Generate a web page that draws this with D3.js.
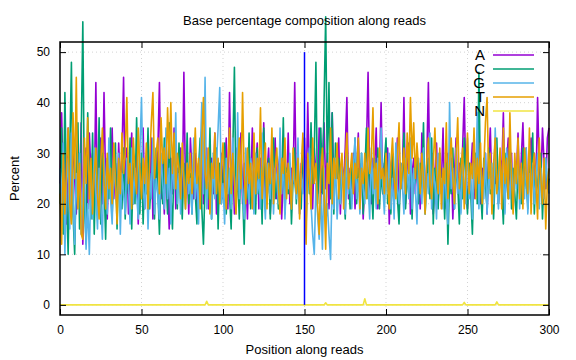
<!DOCTYPE html>
<html><head><meta charset="utf-8">
<script src="https://cdn.jsdelivr.net/npm/d3@7"></script>
<style>body{margin:0;background:#fff}svg{display:block}text{font-family:"Liberation Sans",Arial,sans-serif;}</style>
</head><body><svg id="c" width="576" height="360"></svg>
<script>
const title = "Base percentage composition along reads";
const xLabel = "Position along reads";
const yLabel = "Percent";
const xTicks = [0,50,100,150,200,250,300];
const yTicks = [0,10,20,30,40,50];
const seriesNames = ["A","C","G","T","N"];
const seriesColors = ["#9400d3","#009e73","#56b4e9","#e69f00","#f0e442"];
const positions = d3.range(0, 301);

const valuesA = [24,38,22,30,16,35,28,20,33,25,18,29,22,36,12,27,31,19,34,26,
30,21,44,18,28,33,20,42,24,17,30,26,35,21,28,19,32,24,29,45,
22,31,18,27,34,20,25,30,16,28,23,35,19,29,26,21,33,17,27,24,
30,44,21,28,18,32,25,15,29,22,35,19,27,24,31,20,46,23,29,18,
33,26,21,30,17,28,24,35,20,27,31,19,26,29,22,34,18,28,25,30,
21,27,33,19,42,24,29,18,31,25,22,34,20,28,26,17,30,23,35,21,
27,32,19,29,24,36,20,26,31,18,28,23,33,21,27,30,17,25,29,22,
34,20,27,24,44,22,30,18,28,25,33,21,40,24,29,19,31,26,22,35,
20,28,36,23,30,19,27,38,22,29,25,33,18,28,24,31,41,21,27,23,
30,19,26,34,22,28,17,25,31,46,24,20,29,27,35,19,26,40,22,28,
24,31,16,27,30,21,25,33,19,28,23,41,20,27,32,18,26,29,22,30,
25,19,34,27,21,28,44,23,30,18,26,32,20,28,24,35,19,27,30,22,
29,17,26,33,22,28,20,31,41,24,19,28,26,32,21,29,25,34,20,27,
23,30,18,28,35,22,27,24,31,20,29,26,38,21,28,33,23,30,19,27,
25,34,22,29,36,24,31,20,28,33,26,30,22,41,27,24,35,28,23,33,35];

const valuesC = [20,35,14,42,22,10,30,48,18,10,27,36,15,33,56,20,12,38,24,17,
34,14,28,22,37,16,30,25,13,29,21,35,18,26,32,15,28,23,19,31,
17,26,22,33,15,28,20,37,24,18,30,16,27,22,35,19,25,29,17,31,
23,14,27,20,33,25,18,36,22,15,29,26,19,32,24,17,28,21,34,20,
26,18,30,22,16,27,33,19,12,24,29,21,35,17,26,23,31,15,28,20,
25,32,18,27,22,15,30,47,20,26,17,29,23,12,28,21,34,19,26,24,
18,31,22,27,16,35,24,20,29,17,26,33,21,25,19,30,23,37,18,27,
22,28,16,25,31,20,27,24,19,33,26,18,29,22,36,24,30,48,20,27,
35,22,40,57,26,44,21,38,18,32,25,29,20,27,23,17,31,25,19,28,
24,33,20,27,22,30,18,26,35,21,28,24,17,29,23,31,19,26,22,28,
33,20,25,18,30,24,27,21,16,28,23,34,19,26,22,29,17,27,24,31,
20,28,23,36,18,25,29,21,33,16,27,24,19,30,22,26,17,28,12,25,
22,31,19,27,24,16,29,21,33,25,18,28,22,14,27,30,20,46,23,17,
29,24,19,31,22,27,17,26,33,20,28,23,16,30,25,21,34,19,27,22,
17,28,24,20,31,23,26,19,29,22,34,18,27,24,21,30,17,26,29,23,25];

const valuesG = [27,18,32,10,24,29,15,34,21,12,26,19,30,14,23,28,11,20,10,25,
17,31,22,15,27,20,13,29,24,18,33,21,16,28,23,19,30,14,26,22,
18,29,24,16,31,20,27,22,17,30,41,23,19,28,15,26,21,33,18,25,
22,17,30,24,19,35,21,27,16,29,23,38,20,26,18,31,24,19,28,22,
25,18,33,21,27,16,29,40,22,45,19,26,24,17,30,21,28,35,43,20,
24,16,29,22,27,19,33,25,18,38,21,28,23,17,31,24,20,29,26,18,
30,22,25,19,34,23,17,28,24,21,31,18,27,25,20,35,22,29,17,26,
23,30,19,27,24,21,33,18,26,22,29,16,25,31,20,14,10,24,18,13,
22,11,27,16,20,14,9,25,19,29,17,23,20,28,24,18,31,22,26,19,
27,33,21,25,18,30,23,20,28,24,17,31,22,26,19,29,21,35,24,18,
27,22,30,19,25,17,32,23,20,28,24,18,29,26,21,33,19,27,23,16,
29,24,20,31,18,26,22,34,19,27,24,17,30,22,25,19,28,21,16,40,
23,27,19,31,22,25,18,29,24,20,33,21,26,17,28,23,38,19,27,24,
21,30,18,26,23,28,20,35,24,19,29,22,26,18,31,25,21,28,20,26,
23,29,19,27,24,21,31,18,26,22,28,20,25,30,19,27,23,21,29,24,22];

const valuesT = [22,12,30,18,27,35,20,16,38,25,45,19,28,14,13,33,24,37,21,29,
18,26,31,22,17,28,35,24,19,30,23,27,20,32,25,16,29,22,34,26,
30,41,24,28,19,33,26,22,35,27,21,29,24,32,19,28,36,42,25,30,
33,22,37,28,31,24,39,29,40,26,34,23,30,27,21,32,25,19,28,24,
30,22,27,35,24,29,19,33,41,26,23,31,18,28,25,34,22,29,20,27,
32,24,19,28,35,22,30,25,18,27,33,23,42,26,20,31,24,28,19,34,
22,29,25,39,21,27,32,19,28,24,35,20,27,31,23,18,29,26,33,21,
28,24,19,31,25,22,29,17,27,34,22,12,30,25,19,33,24,28,20,14,
26,31,22,11,28,24,35,20,29,25,32,21,27,30,19,28,34,23,26,30,
22,28,25,33,19,27,24,30,21,35,26,29,39,23,28,20,31,25,27,22,
30,24,19,28,33,25,21,29,36,23,27,31,22,34,26,41,29,36,25,32,
27,22,30,25,18,29,33,24,21,28,35,26,22,31,19,27,24,36,21,28,
33,25,20,29,37,23,27,31,19,26,34,22,28,25,35,21,29,24,32,20,
27,36,41,25,30,18,28,33,22,26,31,19,35,24,29,21,38,25,18,30,
24,33,21,28,19,31,26,22,35,18,27,30,24,17,33,25,20,29,15,24,27];

// N is 0 everywhere except these positions
const nBumpPositions = [90,163,187,248,268];
const nBumpValues = [0.7,0.4,1.2,0.5,0.6];
const valuesN = positions.map(p => { const i = nBumpPositions.indexOf(p); return i >= 0 ? nBumpValues[i] : 0; });

const allValues = [valuesA, valuesC, valuesG, valuesT, valuesN];

const svg = d3.select("#c");
const L = 60, R = 549, T = 42, B = 315;
const x = d3.scaleLinear().domain([0,300]).range([L,R]);
const y = d3.scaleLinear().domain([-2,52]).range([B,T]);

// grid
const g = svg.append("g");
g.selectAll(".gx").data(xTicks.slice(1,-1)).enter().append("line")
  .attr("x1",d=>x(d)).attr("x2",d=>x(d)).attr("y1",T).attr("y2",B)
  .attr("stroke","#c8c8c8").attr("stroke-width",0.8).attr("stroke-dasharray","1,3");
g.selectAll(".gy").data(yTicks).enter().append("line")
  .attr("x1",L).attr("x2",R).attr("y1",d=>y(d)).attr("y2",d=>y(d))
  .attr("stroke","#c8c8c8").attr("stroke-width",0.8).attr("stroke-dasharray","1,3");

// series
const line = d3.line().x((d,i)=>x(positions[i])).y(d=>y(d));
allValues.forEach((vals,k)=>{
  svg.append("path").datum(vals).attr("d",line).attr("fill","none")
    .attr("stroke",seriesColors[k]).attr("stroke-width",1.6).attr("stroke-linejoin","round");
});

// vertical marker at 150
svg.append("line").attr("x1",x(150)).attr("x2",x(150)).attr("y1",y(50)).attr("y2",y(0))
  .attr("stroke","#0000ff").attr("stroke-width",1.5);

// axes (ticks inward, mirrored)
const ax = svg.append("g");
const axB = d3.axisBottom(x).tickValues(xTicks).tickSize(-6).tickPadding(10).tickFormat(d3.format("d"));
const axT = d3.axisTop(x).tickValues(xTicks).tickSize(-6).tickFormat("");
const axL = d3.axisLeft(y).tickValues(yTicks).tickSize(-6).tickPadding(10).tickFormat(d3.format("d"));
const axR = d3.axisRight(y).tickValues(yTicks).tickSize(-6).tickFormat("");
ax.append("g").attr("transform",`translate(0,${B})`).call(axB);
ax.append("g").attr("transform",`translate(0,${T})`).call(axT);
ax.append("g").attr("transform",`translate(${L},0)`).call(axL);
ax.append("g").attr("transform",`translate(${R},0)`).call(axR);
ax.selectAll(".domain").remove();
ax.selectAll(".tick line").attr("stroke","#000").attr("stroke-width",1);
ax.selectAll(".tick text").attr("font-size",12).attr("fill","#000").attr("font-family","Liberation Sans, Arial, sans-serif");
svg.append("rect").attr("x",L).attr("y",T).attr("width",R-L).attr("height",B-T)
  .attr("fill","none").attr("stroke","#000").attr("stroke-width",1.5);

// labels
svg.append("text").attr("x",(L+R)/2).attr("y",25).attr("text-anchor","middle").attr("font-size",13).text(title);
svg.append("text").attr("x",(L+R)/2).attr("y",354).attr("text-anchor","middle").attr("font-size",13).text(xLabel);
svg.append("text").attr("transform",`translate(19,${(T+B)/2}) rotate(-90)`).attr("text-anchor","middle").attr("font-size",13).text(yLabel);

// legend (labels overlap in the original too)
const leg = svg.append("g");
seriesNames.forEach((n,i)=>{
  const yy = 55 + i*14;
  leg.append("text").attr("x",485).attr("y",yy+5).attr("text-anchor","end").attr("font-size",15).text(n);
  leg.append("line").attr("x1",493).attr("x2",534).attr("y1",yy).attr("y2",yy)
    .attr("stroke",seriesColors[i]).attr("stroke-width",1.6);
});
</script></body></html>
